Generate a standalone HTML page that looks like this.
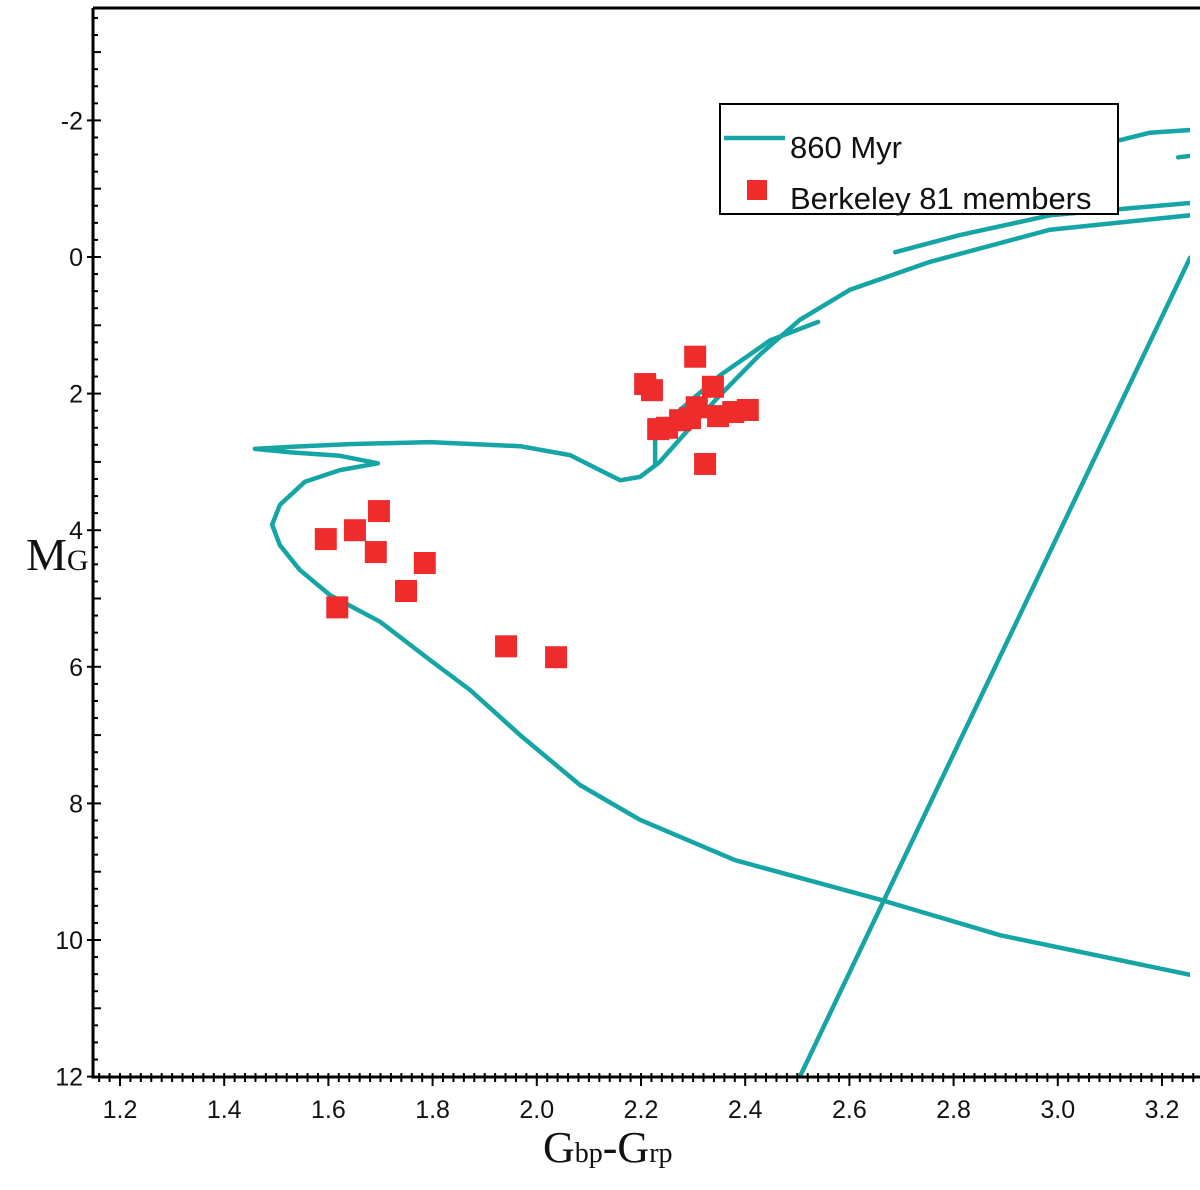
<!DOCTYPE html>
<html><head><meta charset="utf-8"><style>
body{margin:0;background:#fff;}
svg{display:block;font-family:"Liberation Sans",sans-serif;}
</style></head><body>
<svg id="chart" width="1200" height="1190">
<g id="plot"></g>
<g font-family="Liberation Serif,serif" fill="#111">
<text x="543" y="1162" font-size="44">G<tspan font-size="28">bp</tspan>-G<tspan font-size="28">rp</tspan></text>
</g>
<g font-family="Liberation Serif,serif" fill="#111">
<text x="26" y="570" font-size="46">M<tspan font-size="30">G</tspan></text>
</g>
<g>
<rect x="720" y="104" width="398" height="110" fill="#fff" stroke="#000" stroke-width="2"/>
<line x1="724" y1="138" x2="785" y2="138" stroke="#16a5a5" stroke-width="4.5"/>
<text x="790" y="158" font-size="31" fill="#111">860 Myr</text>
<rect x="747" y="180" width="20" height="20" fill="#ee2c2c"/>
<text x="790" y="209" font-size="31" fill="#111">Berkeley 81 members</text>
</g>
</svg>
<script>
const xTicks=[1.2,1.4,1.6,1.8,2.0,2.2,2.4,2.6,2.8,3.0,3.2];
const xTickLabels=["1.2","1.4","1.6","1.8","2.0","2.2","2.4","2.6","2.8","3.0","3.2"];
const yTicks=[-2,0,2,4,6,8,10,12];
const yTickLabels=["-2","0","2","4","6","8","10","12"];
const memberColor=[1.595,1.617,1.651,1.697,1.691,1.749,1.785,1.941,2.037,2.208,2.221,2.304,2.338,2.307,2.294,2.275,2.250,2.233,2.323,2.348,2.377,2.405];
const memberMag=[4.13,5.13,4.00,3.72,4.32,4.89,4.48,5.70,5.86,1.86,1.95,1.46,1.90,2.20,2.36,2.39,2.50,2.52,3.03,2.33,2.27,2.24];
const isoMainX=[3.254,2.889,2.659,2.380,2.198,2.083,1.968,1.872,1.795,1.699,1.603,1.545,1.507,1.492,1.507,1.555,1.622,1.695,1.622,1.526,1.459,1.526,1.641,1.795,1.968,2.064,2.121,2.160,2.198,2.236,2.294,2.352,2.428,2.505,2.601,2.755,2.985,3.254];
const isoMainY=[10.51,9.93,9.41,8.83,8.24,7.73,7.00,6.34,5.90,5.34,4.95,4.58,4.22,3.92,3.63,3.29,3.12,3.02,2.91,2.86,2.81,2.78,2.74,2.71,2.77,2.90,3.12,3.27,3.22,3.00,2.50,2.02,1.43,0.92,0.48,0.07,-0.40,-0.61];
const isoB2X=[2.227,2.227,2.275,2.352,2.448,2.540];
const isoB2Y=[3.05,2.68,2.24,1.73,1.22,0.95];
const isoB3X=[2.688,2.812,2.985,3.254];
const isoB3Y=[-0.07,-0.32,-0.61,-0.79];
const isoB4X=[3.119,3.177,3.254];
const isoB4Y=[-1.71,-1.82,-1.86];
const isoB5X=[3.231,3.254];
const isoB5Y=[-1.46,-1.48];
const isoB6X=[2.505,3.254];
const isoB6Y=[12.0,0.01];

const L=93,R=1190,T=8,B=1077;
const sx=v=>120+(v-1.2)*521;
const sy=v=>257+v*68.3;
const NS="http://www.w3.org/2000/svg";
const g=document.getElementById('plot');
function mk(t,a){const e=document.createElementNS(NS,t);for(const k in a)e.setAttribute(k,a[k]);g.appendChild(e);return e;}

const defs=mk('defs',{});
const cp=document.createElementNS(NS,'clipPath');cp.setAttribute('id','clip');
const cr=document.createElementNS(NS,'rect');cr.setAttribute('x',L);cr.setAttribute('y',T);cr.setAttribute('width',R-L);cr.setAttribute('height',B-T);
cp.appendChild(cr);defs.appendChild(cp);

const curves=[[isoMainX,isoMainY,'isochrone-main'],[isoB2X,isoB2Y,'isochrone-branch-2'],[isoB3X,isoB3Y,'isochrone-branch-3'],[isoB4X,isoB4Y,'isochrone-branch-4'],[isoB5X,isoB5Y,'isochrone-branch-5'],[isoB6X,isoB6Y,'isochrone-branch-6']];
curves.forEach(c=>{
 const pts=c[0].map((x,i)=>sx(x).toFixed(1)+','+sy(c[1][i]).toFixed(1)).join(' ');
 const p=mk('polyline',{points:pts,fill:'none',stroke:'#16a5a5','stroke-width':4.5,'stroke-linejoin':'round','stroke-linecap':'round','clip-path':'url(#clip)'});
 
 
});
memberColor.forEach((x,i)=>{
 const r=mk('rect',{x:sx(x)-11,y:sy(memberMag[i])-11,width:22,height:22,fill:'#ee2c2c'});
 
 
});
const ax=mk('path',{d:`M${L},${T} H1200 M${L},${T} V${B} H1200`,stroke:'#000','stroke-width':3,fill:'none'});


for(let v=-3.5;v<=12.001;v+=0.25){
 const y=sy(v);if(y<T+3)continue;
 const major=Math.abs(v-Math.round(v/2)*2)<1e-6;
 const half=Math.abs(v-Math.round(v))<1e-6;
 mk('line',{x1:major?L-6:L,x2:L+(major?8:(half?8:5)),y1:y,y2:y,stroke:'#000','stroke-width':2});
}
yTicks.forEach((v,i)=>{
 const t=mk('text',{x:L-10,y:sy(v)+9,'text-anchor':'end','font-size':25,fill:'#111'});t.textContent=yTickLabels[i];
 
 
});
for(let v=1.16;v<=3.27;v+=0.02){
 const x=sx(v);if(x<L+2)continue;
 const k=Math.round(v*100);
 const major=k%20===0;
 mk('line',{x1:x,x2:x,y1:B-4,y2:B+(major?9:5),stroke:'#000','stroke-width':2});
}
xTicks.forEach((v,i)=>{
 const t=mk('text',{x:sx(v),y:1118,'text-anchor':'middle','font-size':25,fill:'#111'});t.textContent=xTickLabels[i];
 
 
});
</script>
</body></html>
